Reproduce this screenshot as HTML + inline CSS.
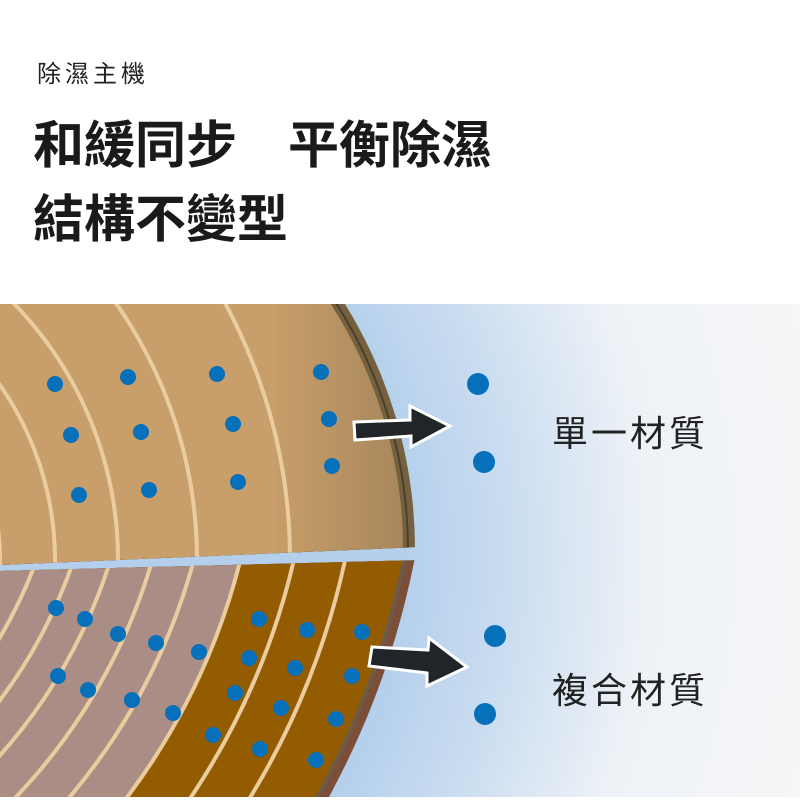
<!DOCTYPE html>
<html><head><meta charset="utf-8"><style>
html,body{margin:0;padding:0;background:#fff;width:800px;height:800px;overflow:hidden}
svg{display:block}
text{font-family:"Liberation Sans","Noto Sans CJK TC",sans-serif}
</style></head><body>
<svg width="800" height="800" viewBox="0 0 800 800" xmlns="http://www.w3.org/2000/svg">
<defs>
<radialGradient id="bg" cx="-52" cy="550" r="900" gradientUnits="userSpaceOnUse">
<stop offset="0.5" stop-color="#b3cfec"/>
<stop offset="0.62" stop-color="#c9dcf0"/>
<stop offset="0.78" stop-color="#eef2f7"/>
<stop offset="1" stop-color="#f6f6f7"/>
</radialGradient>
<linearGradient id="topg" x1="0" y1="0" x2="1" y2="0">
<stop offset="0.65" stop-color="#c89e6a"/>
<stop offset="1" stop-color="#a3845a"/>
</linearGradient>
<clipPath id="ctop"><path d="M0 304 L420 304 L420 547 L0 565 Z"/></clipPath>
<clipPath id="cbot"><path d="M0 571 L420 560 L420 797 L0 797 Z"/></clipPath>
<clipPath id="discT"><circle cx="-52" cy="550" r="455"/></clipPath>
</defs>
<rect x="0" y="0" width="800" height="800" fill="#fff"/>
<rect x="0" y="304" width="800" height="493" fill="url(#bg)"/>
<text x="37" y="82" font-size="24" fill="#222" letter-spacing="4">除濕主機</text>
<text x="33" y="163" font-size="51" font-weight="bold" fill="#1a1a1a">和緩同步　平衡除濕</text>
<text x="33" y="237" font-size="51" font-weight="bold" fill="#1a1a1a">結構不變型</text>

<g clip-path="url(#ctop)">
<circle cx="-52" cy="550" r="467" fill="#76613f"/>
<circle cx="-52" cy="550" r="461" fill="#4a4030"/>
<circle cx="-52" cy="550" r="459" fill="#76613f"/>
<g clip-path="url(#discT)">
<rect x="0" y="300" width="420" height="270" fill="url(#topg)"/>
<g fill="none" stroke="#ebcc9f" stroke-width="4">
<circle cx="-250" cy="560" r="540"/>
<circle cx="-250" cy="560" r="447"/>
<circle cx="-250" cy="560" r="368"/>
<circle cx="-250" cy="560" r="305"/>
<circle cx="-250" cy="560" r="250"/>
</g>
</g>
</g>
<g clip-path="url(#cbot)">
<circle cx="-400" cy="400" r="830" fill="#7a4e38"/>
<circle cx="-400" cy="400" r="822" fill="#6e5a48"/>
<circle cx="-400" cy="400" r="818" fill="#935c00"/>
<circle cx="-400" cy="400" r="660" fill="#aa8e85"/>
<g fill="none" stroke="#ebcc9f" stroke-width="4">
<circle cx="-400" cy="400" r="762"/>
<circle cx="-400" cy="400" r="712"/>
<circle cx="-400" cy="400" r="660"/>
<circle cx="-400" cy="400" r="615"/>
<circle cx="-400" cy="400" r="575"/>
<circle cx="-400" cy="400" r="535"/>
<circle cx="-400" cy="400" r="500"/>
<circle cx="-400" cy="400" r="465"/>
<circle cx="-400" cy="400" r="430"/>
</g>
</g>

<g fill="#0670bb">
<circle cx="55" cy="384" r="8"/><circle cx="128" cy="377" r="8"/><circle cx="217" cy="374" r="8"/><circle cx="321" cy="372" r="8"/>
<circle cx="71" cy="435" r="8"/><circle cx="141" cy="432" r="8"/><circle cx="233" cy="424" r="8"/><circle cx="329" cy="419" r="8"/>
<circle cx="79" cy="495" r="8"/><circle cx="149" cy="490" r="8"/><circle cx="238" cy="482" r="8"/><circle cx="332" cy="466" r="8"/>
<circle cx="56" cy="608" r="8"/><circle cx="85" cy="619" r="8"/><circle cx="118" cy="634" r="8"/><circle cx="156" cy="643" r="8"/><circle cx="199" cy="652" r="8"/>
<circle cx="58" cy="676" r="8"/><circle cx="88" cy="690" r="8"/><circle cx="132" cy="700" r="8"/><circle cx="173" cy="713" r="8"/><circle cx="213" cy="735" r="8"/>
<circle cx="259" cy="619" r="8"/><circle cx="307" cy="630" r="8"/><circle cx="362" cy="632" r="8"/>
<circle cx="249" cy="658" r="8"/><circle cx="295" cy="668" r="8"/><circle cx="352" cy="676" r="8"/>
<circle cx="235" cy="693" r="8"/><circle cx="281" cy="708" r="8"/><circle cx="336" cy="719" r="8"/>
<circle cx="260" cy="749" r="8"/><circle cx="316" cy="760" r="8"/>
<circle cx="478" cy="384" r="11"/><circle cx="484" cy="462" r="11"/><circle cx="495" cy="636" r="11"/><circle cx="485" cy="714" r="11"/>
</g>

<path d="M354 422 L410 420 L410 406 L450 426 L411 447 L411 436 L355 440 Z" fill="#212428" stroke="#fff" stroke-width="3"/>
<path d="M372 647 L428 650 L429 638 L467 667 L427 686 L427 673 L369 666 Z" fill="#212428" stroke="#fff" stroke-width="3"/>

<text x="552" y="446" font-size="36" fill="#222" letter-spacing="3">單一材質</text>
<text x="552" y="703" font-size="36" fill="#222" letter-spacing="3">複合材質</text>
</svg>
</body></html>
